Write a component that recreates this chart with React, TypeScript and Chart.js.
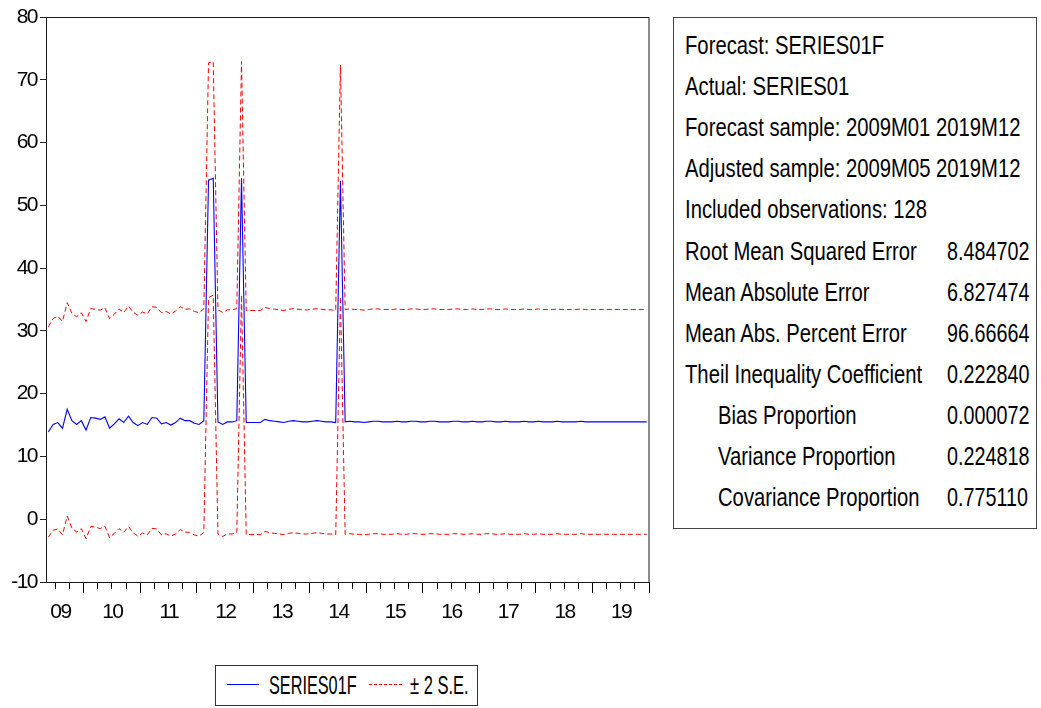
import React, { useEffect, useRef } from 'react';
import { Chart, registerables } from 'chart.js';

Chart.register(...registerables);

// Monthly observations 2009M05 .. 2019M12 (128 periods)
const FIRST_YEAR = 2009;
const FIRST_MONTH = 5;
const N_OBS = 128;
const periods: string[] = Array.from({ length: N_OBS }, (_, i) => {
  const m = FIRST_MONTH - 1 + i;
  const y = FIRST_YEAR + Math.floor(m / 12);
  const mm = (m % 12) + 1;
  return `${y}M${String(mm).padStart(2, '0')}`;
});

// Year labels on the date axis and the period each one sits on
const yearLabels = ['09', '10', '11', '12', '13', '14', '15', '16', '17', '18', '19'];
const yearLabelPeriods = [
  '2009M08', '2010M07', '2011M07', '2012M07', '2013M07', '2014M07',
  '2015M07', '2016M07', '2017M07', '2018M07', '2019M07',
];

// Forecast SERIES01F
const forecast: number[] = [
  13.9, 15.1, 15.4, 14.5, 17.5, 15.7, 15.1, 15.7, 14.2, 16.2,
  16.1, 15.9, 16.3, 14.5, 15.2, 16.0, 15.4, 16.4, 15.4, 14.9,
  15.4, 15.1, 16.2, 16.1, 15.2, 15.4, 15.0, 15.4, 16.1, 15.7,
  15.7, 15.3, 15.1, 15.7, 54.0, 54.3, 15.5, 15.1, 15.5, 15.5,
  15.7, 54.3, 15.4, 15.4, 15.4, 15.4, 15.9, 15.7, 15.6, 15.5,
  15.4, 15.6, 15.7, 15.6, 15.5, 15.5, 15.6, 15.7, 15.6, 15.5,
  15.5, 15.4, 53.9, 15.5, 15.6, 15.5, 15.5, 15.4, 15.5, 15.6,
  15.6, 15.5, 15.5, 15.5, 15.6, 15.5, 15.5, 15.6, 15.6, 15.5,
  15.5, 15.6, 15.6, 15.5, 15.5, 15.5, 15.6, 15.6, 15.5, 15.5,
  15.6, 15.5, 15.5, 15.6, 15.6, 15.5, 15.5, 15.6, 15.5, 15.5,
  15.5, 15.6, 15.5, 15.5, 15.6, 15.5, 15.5, 15.5, 15.6, 15.5,
  15.5, 15.5, 15.5, 15.6, 15.5, 15.5, 15.5, 15.5, 15.5, 15.5,
  15.5, 15.5, 15.5, 15.5, 15.5, 15.5, 15.5, 15.5,
];

// Two forecast standard errors (half-width of the band)
const twoSE: number[] = [
  16.75, 16.85, 16.95, 17.0, 17.0, 17.1, 17.15, 17.2, 17.3, 17.35,
  17.35, 17.4, 17.4, 17.45, 17.45, 17.5, 17.5, 17.55, 17.55, 17.6,
  17.6, 17.6, 17.65, 17.65, 17.7, 17.7, 17.7, 17.75, 17.75, 17.75,
  17.8, 17.8, 17.8, 17.8, 18.7, 18.6, 17.85, 17.85, 17.85, 17.85,
  17.85, 18.6, 17.85, 17.85, 17.85, 17.85, 17.85, 17.85, 17.85, 17.85,
  17.85, 17.85, 17.85, 17.85, 17.85, 17.85, 17.85, 17.85, 17.85, 17.85,
  17.85, 17.85, 18.45, 17.9, 17.9, 17.9, 17.9, 17.9, 17.9, 17.9,
  17.9, 17.9, 17.9, 17.9, 17.9, 17.9, 17.9, 17.9, 17.9, 17.9,
  17.9, 17.9, 17.9, 17.9, 17.9, 17.9, 17.9, 17.9, 17.9, 17.9,
  17.9, 17.9, 17.9, 17.9, 17.9, 17.9, 17.9, 17.9, 17.9, 17.9,
  17.9, 17.9, 17.9, 17.9, 17.9, 17.9, 17.9, 17.9, 17.9, 17.9,
  17.9, 17.9, 17.9, 17.9, 17.9, 17.9, 17.9, 17.9, 17.9, 17.9,
  17.9, 17.9, 17.9, 17.9, 17.9, 17.9, 17.9, 17.9,
];

// Value axis
const yMin = -10;
const yMax = 80;
const yStep = 10;

// Forecast evaluation table
const headerLines = [
  'Forecast: SERIES01F',
  'Actual: SERIES01',
  'Forecast sample: 2009M01 2019M12',
  'Adjusted sample: 2009M05 2019M12',
  'Included observations: 128',
];
const statNames = [
  'Root Mean Squared Error',
  'Mean Absolute Error',
  'Mean Abs. Percent Error',
  'Theil Inequality Coefficient',
  'Bias Proportion',
  'Variance Proportion',
  'Covariance Proportion',
];
const statValues = ['8.484702', '6.827474', '96.66664', '0.222840', '0.000072', '0.224818', '0.775110'];
const statIndented = [false, false, false, false, true, true, true];

const SANS = "'Liberation Sans', Arial, sans-serif";

const monthOf = (i: number | undefined) =>
  i === undefined || i >= periods.length ? 1 : Number(periods[i].slice(5));

// Tighter glyph spacing for the axis numbers
const tightText = {
  id: 'tightText',
  beforeDraw(chart: any) {
    chart.ctx.letterSpacing = '-1.5px';
  },
};

// Closes the plot rectangle on the top and right sides
const plotFrame = {
  id: 'plotFrame',
  afterDraw(chart: any) {
    const { ctx, chartArea: a } = chart;
    ctx.save();
    ctx.strokeStyle = '#1a1a1a';
    ctx.lineWidth = 1;
    ctx.strokeRect(Math.round(a.left) + 0.5, Math.round(a.top) + 0.5,
      Math.round(a.right - a.left) - 0.5, Math.round(a.bottom - a.top));
    ctx.restore();
  },
};

function ForecastChart() {
  const ref = useRef<HTMLCanvasElement>(null);

  useEffect(() => {
    const upper = forecast.map((v, i) => v + twoSE[i]);
    const lower = forecast.map((v, i) => v - twoSE[i]);
    const bandStyle = {
      borderColor: '#ff0000',
      borderWidth: 1,
      borderDash: [5, 3],
      pointRadius: 0,
      tension: 0,
      fill: false,
    };
    const chart = new Chart(ref.current as HTMLCanvasElement, {
      type: 'line',
      data: {
        labels: periods,
        datasets: [
          { label: '± 2 S.E.', data: upper, ...bandStyle },
          { label: '± 2 S.E. lower', data: lower, ...bandStyle },
          {
            label: 'SERIES01F',
            data: forecast,
            borderColor: '#0000ff',
            borderWidth: 1.1,
            pointRadius: 0,
            tension: 0,
            fill: false,
          },
        ],
      },
      options: {
        responsive: false,
        animation: false,
        events: [],
        layout: { padding: { top: 17, right: 11, left: 0, bottom: 0 } },
        plugins: { legend: { display: false }, tooltip: { enabled: false } },
        scales: {
          x: {
            type: 'category',
            offset: true,
            afterFit: (s: any) => { s.height = 58; },
            border: { display: true, color: '#000', width: 1 },
            grid: {
              offset: true,
              drawOnChartArea: false,
              drawTicks: true,
              tickLength: 11,
              tickColor: '#000',
              tickWidth: (c: any) => {
                const m = monthOf(c.index);
                return m === 1 || m === 4 || m === 7 || m === 10 ? 1 : 0;
              },
              tickBorderDash: (c: any) => (monthOf(c.index) === 1 ? [] : [6, 40]),
            },
            ticks: {
              autoSkip: false,
              maxRotation: 0,
              minRotation: 0,
              labelOffset: -2,
              padding: 7,
              color: '#000',
              font: { family: SANS, size: 21 },
              callback: (_v: any, i: number) => {
                const k = yearLabelPeriods.indexOf(periods[i]);
                return k >= 0 ? yearLabels[k] : '';
              },
            },
          },
          y: {
            min: yMin,
            max: yMax,
            afterFit: (s: any) => { s.width = 46; },
            border: { display: true, color: '#000', width: 1 },
            grid: {
              drawOnChartArea: false,
              drawTicks: true,
              tickLength: 6,
              tickColor: '#222',
            },
            ticks: {
              stepSize: yStep,
              padding: 3,
              color: '#000',
              font: { family: SANS, size: 21 },
            },
          },
        },
      },
      plugins: [tightText, plotFrame],
    });
    return () => chart.destroy();
  }, []);

  return (
    <canvas
      ref={ref}
      width={660}
      height={640}
      style={{ position: 'absolute', left: 0, top: 0, width: 660, height: 640 }}
    />
  );
}

const squeeze = (k: number): React.CSSProperties => ({
  transform: `scaleX(${k})`,
  transformOrigin: 'left center',
  whiteSpace: 'nowrap',
});

function Legend() {
  return (
    <div
      style={{
        position: 'absolute', left: 215, top: 665, width: 263, height: 41,
        border: '1px solid #333', boxSizing: 'border-box', fontFamily: SANS,
        fontSize: 25, color: '#000',
      }}
    >
      <div style={{ position: 'absolute', left: 11, top: 18, width: 32, borderTop: '1px solid #0000ff' }} />
      <div style={{ position: 'absolute', left: 53, top: 4, lineHeight: '30px', ...squeeze(0.65) }}>SERIES01F</div>
      <div style={{ position: 'absolute', left: 153, top: 18, width: 33, borderTop: '1px dashed #ff0000' }} />
      <div style={{ position: 'absolute', left: 194, top: 4, lineHeight: '30px', ...squeeze(0.66) }}>± 2 S.E.</div>
    </div>
  );
}

function StatsBox() {
  const lineH = 41.1;
  const row = (i: number, left: number): React.CSSProperties => ({
    position: 'absolute', left, top: 7 + i * lineH, lineHeight: `${lineH}px`,
  });
  return (
    <div
      style={{
        position: 'absolute', left: 673, top: 17, width: 364, height: 512,
        border: '1px solid #444', boxSizing: 'border-box', fontFamily: SANS,
        fontSize: 25, color: '#000',
      }}
    >
      {headerLines.map((t, i) => (
        <div key={t} style={{ ...row(i, 11), ...squeeze(0.81) }}>{t}</div>
      ))}
      {statNames.map((t, i) => (
        <React.Fragment key={t}>
          <div style={{ ...row(i + 5, statIndented[i] ? 44 : 11), ...squeeze(0.81) }}>{t}</div>
          <div style={{ ...row(i + 5, 273), ...squeeze(0.79) }}>{statValues[i]}</div>
        </React.Fragment>
      ))}
    </div>
  );
}

export default function App() {
  return (
    <div style={{ position: 'absolute', left: 0, top: 0, width: 1041, height: 708, background: '#fff', overflow: 'hidden' }}>
      <ForecastChart />
      <StatsBox />
      <Legend />
    </div>
  );
}
